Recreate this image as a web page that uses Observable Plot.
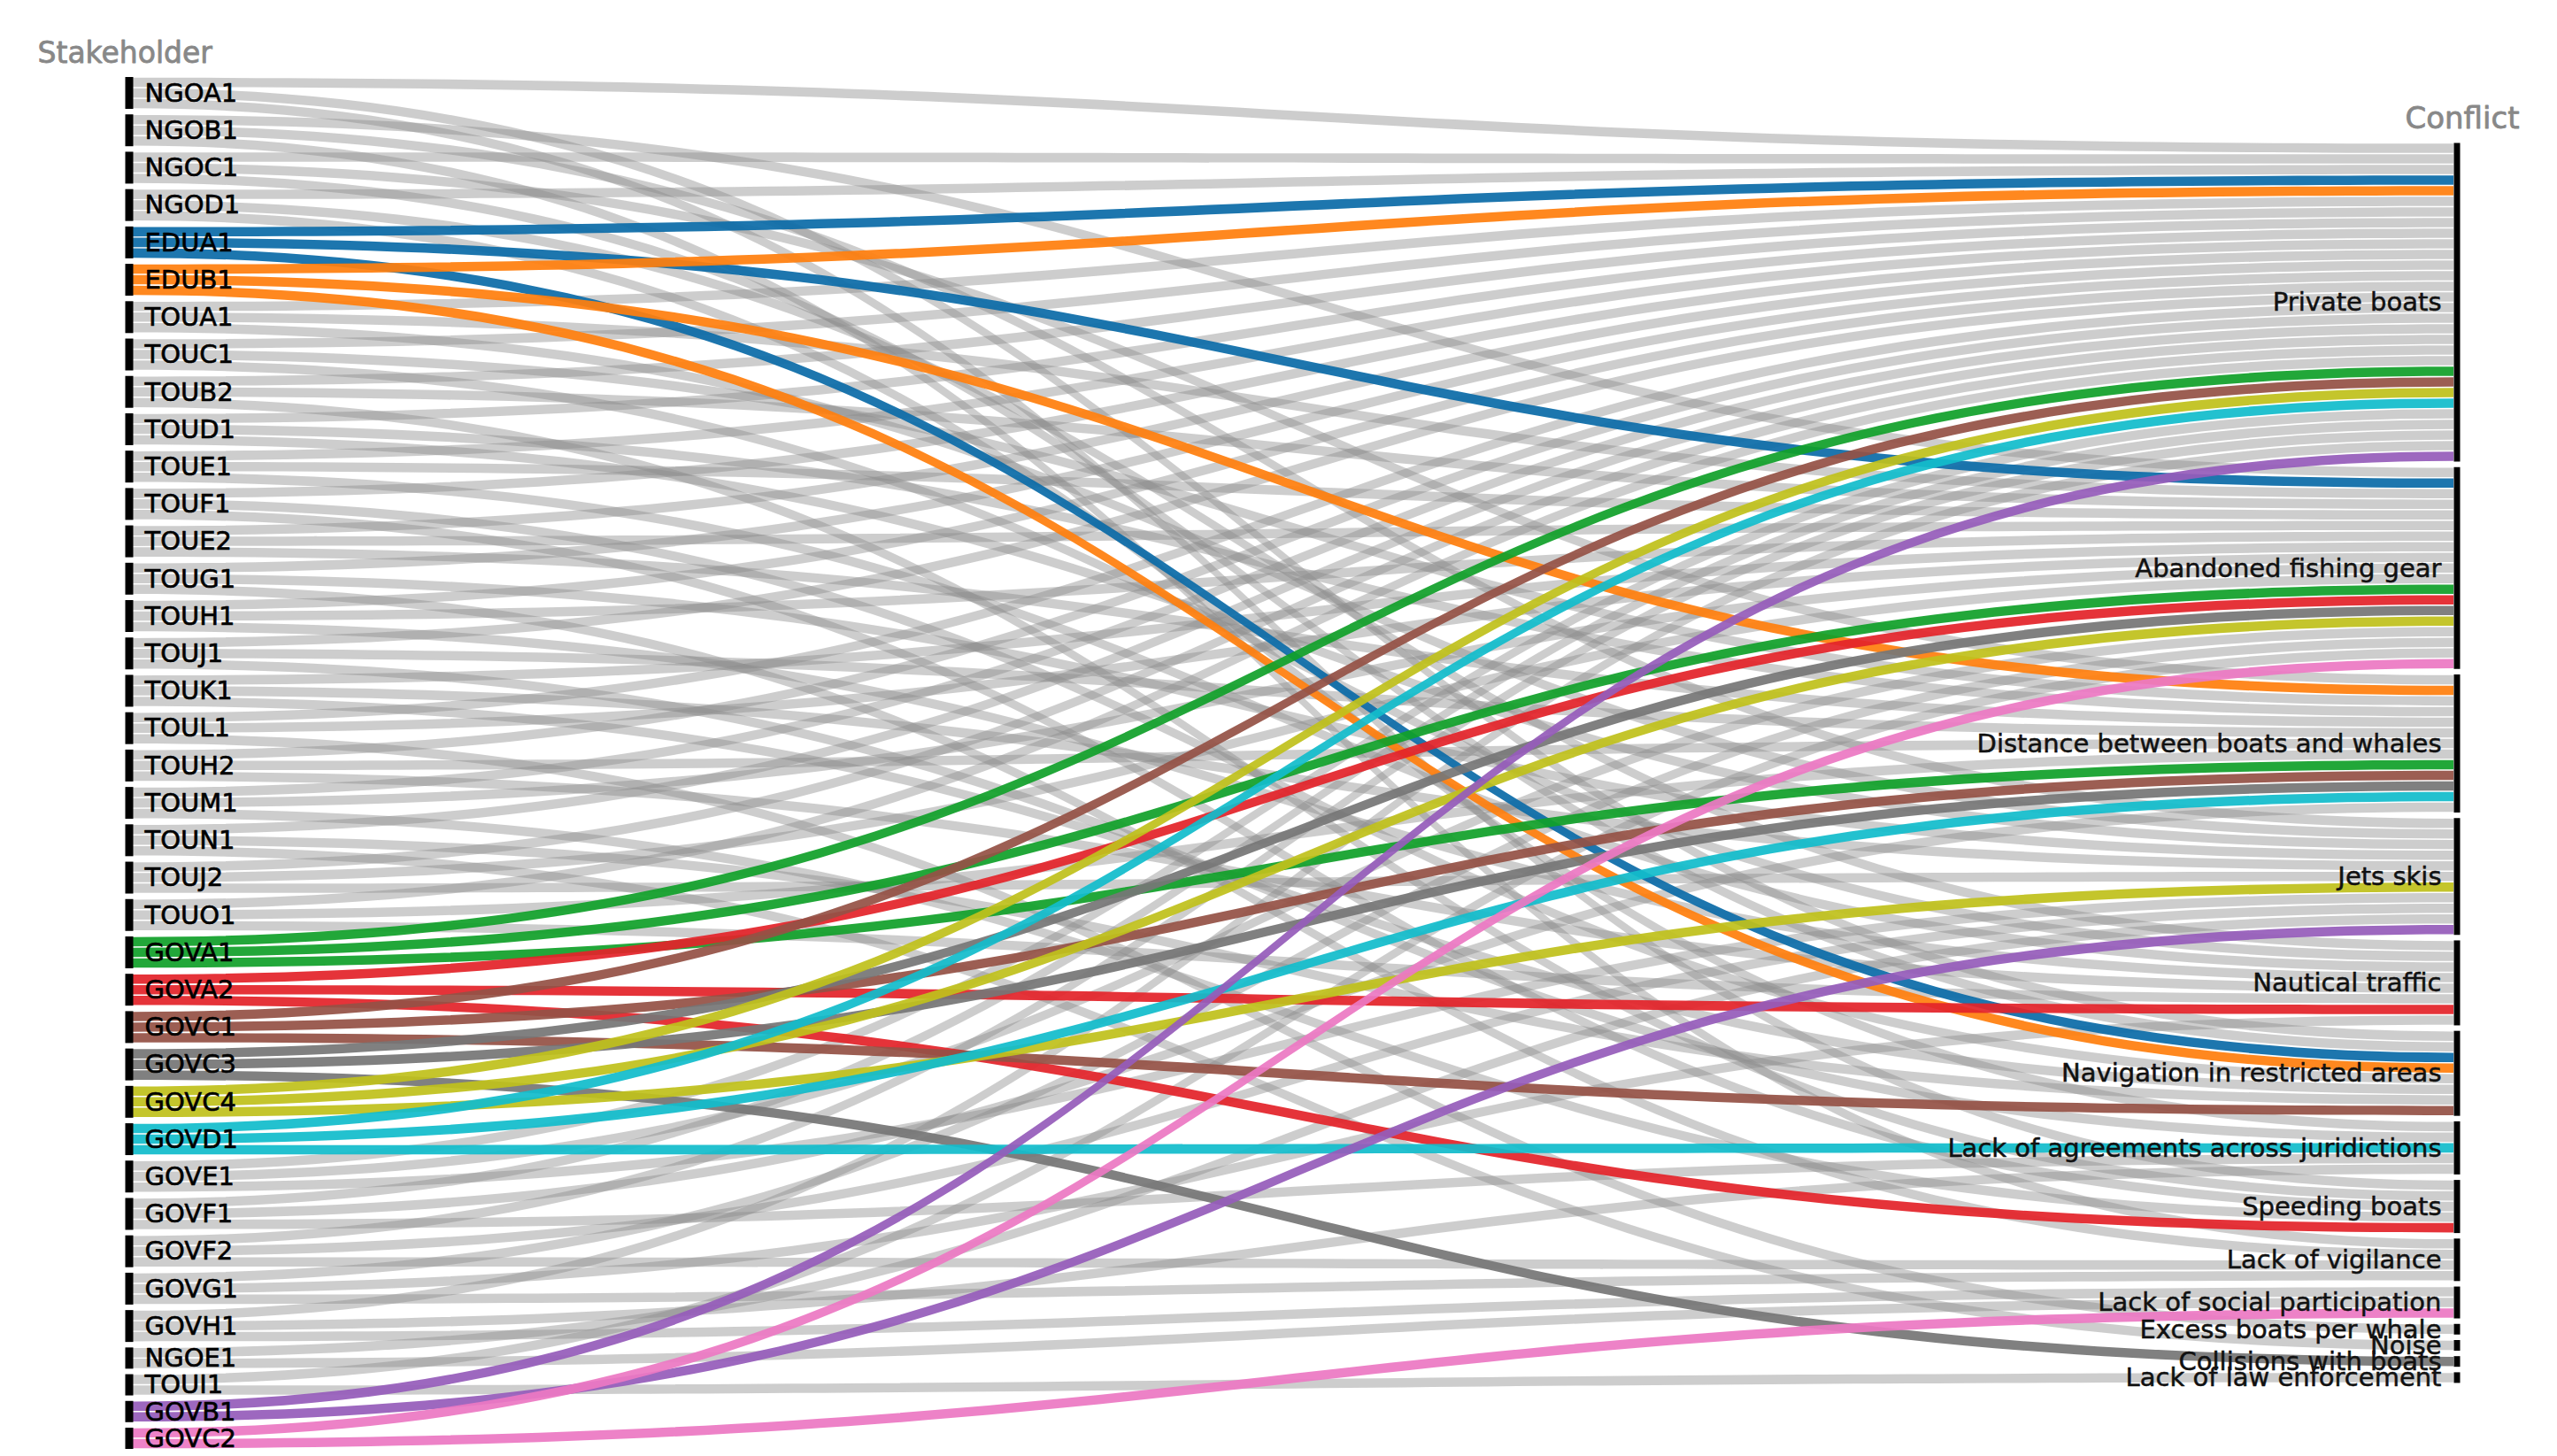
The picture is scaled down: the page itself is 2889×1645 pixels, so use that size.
<!DOCTYPE html>
<html>
<head>
<meta charset="utf-8">
<script src="https://cdn.jsdelivr.net/npm/d3@7"></script>
<script src="https://cdn.jsdelivr.net/npm/@observablehq/plot@0.6"></script>
<style>
  html, body { margin: 0; padding: 0; background: #fff; overflow: hidden; }
  svg { display: block; }
</style>
</head>
<body>
<div id="chart"></div>
<script>
// ---- DATA ----
const dimensionTitles = ["Stakeholder", "Conflict"];

const stakeholders = [
  "NGOA1","NGOB1","NGOC1","NGOD1","EDUA1","EDUB1","TOUA1","TOUC1","TOUB2","TOUD1",
  "TOUE1","TOUF1","TOUE2","TOUG1","TOUH1","TOUJ1","TOUK1","TOUL1","TOUH2","TOUM1",
  "TOUN1","TOUJ2","TOUO1","GOVA1","GOVA2","GOVC1","GOVC3","GOVC4","GOVD1","GOVE1",
  "GOVF1","GOVF2","GOVG1","GOVH1","NGOE1","TOUI1","GOVB1","GOVC2"
];

const conflicts = [
  "Private boats",                          // 0
  "Abandoned fishing gear",                 // 1
  "Distance between boats and whales",      // 2
  "Jets skis",                              // 3
  "Nautical traffic",                       // 4
  "Navigation in restricted areas",         // 5
  "Lack of agreements across juridictions", // 6
  "Speeding boats",                         // 7
  "Lack of vigilance",                      // 8
  "Lack of social participation",           // 9
  "Excess boats per whale",                 // 10
  "Noise",                                  // 11
  "Collisions with boats",                  // 12
  "Lack of law enforcement"                 // 13
];

// conflicts mentioned by each stakeholder (indices into conflicts), same order as stakeholders
const mentions = [
  [0,5,7],  [1,3,8],  [0,2,5],  [0,4,6],  [0,1,5],  [0,2,5],  [0,1,3],  [0,2,4],  [0,1,7],  [0,2,3],
  [0,1,4],  [0,5,7],  [0,1,2],  [0,3,8],  [0,1,4],  [0,2,6],  [1,3,5],  [0,1,10], [0,2,4],  [0,1,7],
  [0,5,11], [0,1,3],  [0,2,4],  [0,1,2],  [1,4,7],  [0,2,5],  [1,2,12], [0,1,3],  [0,2,6],  [0,1,3],
  [0,2,6],  [0,3,8],  [1,4,8],  [0,6,9],  [3,9],    [1,13],   [0,3],    [1,9]
];

const highlighted = ["EDUA1","EDUB1","GOVA1","GOVA2","GOVC1","GOVC3","GOVC4","GOVD1","GOVB1","GOVC2"];
const highlightColors = ["#0c6ca8","#ff7f0e","#11a02a","#e3232a","#955246","#767676","#bfc11c","#12bccb","#965cba","#ec79c3"];

// ---- LAYOUT (in link units) ----
const gap = 0.518;
const links = [];
stakeholders.forEach((s, si) => mentions[si].forEach(ci => links.push({s, si, ci})));

let acc = 0;
const leftNodes = stakeholders.map((name, si) => {
  const n = links.filter(l => l.si === si).length;
  const node = {name, y0: acc, y1: acc + n};
  acc += n + gap;
  return node;
});
const leftTotal = acc - gap;

const counts = conflicts.map((c, ci) => links.filter(l => l.ci === ci).length);
const rightTotal = d3.sum(counts) + gap * (conflicts.length - 1);
let accR = (leftTotal - rightTotal) / 2;
const rightNodes = conflicts.map((name, ci) => {
  const node = {name, y0: accR, y1: accR + counts[ci]};
  accR += counts[ci] + gap;
  return node;
});

leftNodes.forEach((node, si) => {
  links.filter(l => l.si === si).sort((a, b) => a.ci - b.ci)
    .forEach((l, k) => { l.ly = node.y0 + k; });
});
rightNodes.forEach((node, ci) => {
  links.filter(l => l.ci === ci).sort((a, b) => a.si - b.si)
    .forEach((l, k) => { l.ry = node.y0 + k; });
});

const inset = 0.06;
const ribbons = links.flatMap((l, id) => [
  {id, s: l.s, x: 0, top: l.ly + inset, bottom: l.ly + 1 - inset},
  {id, s: l.s, x: 1, top: l.ry + inset, bottom: l.ry + 1 - inset}
]);
const greyRibbons = ribbons.filter(r => !highlighted.includes(r.s));
const colorRibbons = ribbons.filter(r => highlighted.includes(r.s));

const font = "DejaVu Sans, Verdana, sans-serif";

const chart = Plot.plot({
  width: 2889,
  height: 1645,
  margin: 0,
  style: {background: "white", fontFamily: font},
  x: {domain: [0, 1], range: [150, 2772], axis: null},
  y: {domain: [0, leftTotal], range: [87, 1637], axis: null},
  color: {domain: highlighted, range: highlightColors},
  marks: [
    Plot.areaY(greyRibbons, {x: "x", y1: "top", y2: "bottom", z: "id", curve: "bump-x", fill: "#8c8c8c", fillOpacity: 0.43}),
    Plot.areaY(colorRibbons, {x: "x", y1: "top", y2: "bottom", z: "id", curve: "bump-x", fill: "s", fillOpacity: 0.93}),
    Plot.ruleX(leftNodes, {x: 0, y1: "y0", y2: "y1", stroke: "black", strokeWidth: 9, dx: -4.5}),
    Plot.ruleX(rightNodes, {x: 1, y1: "y0", y2: "y1", stroke: "black", strokeWidth: 7, dx: 3.5}),
    Plot.text(leftNodes, {x: 0, y: d => (d.y0 + d.y1) / 2, text: "name", textAnchor: "start", dx: 13, fontSize: 29, fill: "black", stroke: "black", strokeWidth: 0.6, fontFamily: font}),
    Plot.text(rightNodes, {x: 1, y: d => (d.y0 + d.y1) / 2, text: "name", textAnchor: "end", dx: -14, fontSize: 29, fill: "#111", stroke: "#111", strokeWidth: 0.5, fontFamily: font}),
    Plot.text(dimensionTitles.slice(0, 1), {text: d => d, frameAnchor: "top-left", lineAnchor: "middle", dx: 42, dy: 60, textAnchor: "start", fontSize: 33, fill: "#888", stroke: "#888", strokeWidth: 0.8, fontFamily: font}),
    Plot.text(dimensionTitles.slice(1, 2), {text: d => d, frameAnchor: "top-right", lineAnchor: "middle", dx: -43, dy: 134, textAnchor: "end", fontSize: 34, fill: "#888", stroke: "#888", strokeWidth: 0.8, fontFamily: font})
  ]
});
document.getElementById("chart").appendChild(chart);
</script>
</body>
</html>
